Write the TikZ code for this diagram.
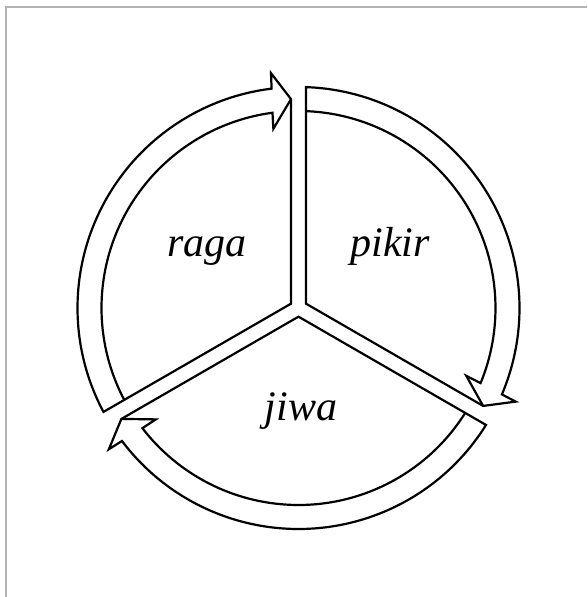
\documentclass[tikz,border=0pt]{standalone}
\usepackage{fontspec}
\setmainfont{Liberation Serif}
\usepackage{tikz}
\usetikzlibrary{calc}
\definecolor{framegray}{RGB}{180,180,180}

\begin{document}
\begin{tikzpicture}[x=1pt, y=1pt,
    sector/.style={line width=2.2pt, line join=miter, miter limit=20},
    label/.style={font=\fontsize{42}{50}\selectfont\itshape, anchor=base}]
    % Canvas and frame
    \useasboundingbox (-298.5,-289) rectangle (288.5,308);
    \draw[framegray, line width=1.3pt] (-292.5,-289) -- (-292.5,301) -- (288.5,301);

    % Three sectors, each with a curved arrow round its rim
    \foreach \r in {0,-120,-240} {
        \begin{scope}[rotate=\r]
            \coordinate (vertex) at (150:8.66pt);
            \coordinate (tip) at (92.06:209pt);
            \draw[sector] (vertex) -- (208.05:221pt)
                arc[start angle=208.05, end angle=96.99, radius=221pt]
                -- (96.68:236.5pt) -- (tip) -- cycle;
            \draw[sector] (207.82:197pt)
                arc[start angle=207.82, end angle=97.59, radius=197pt]
                -- (97.98:181pt) -- (tip);
        \end{scope}
    }

    % Labels
    \node[label] (raga) at (-91.5,51) {raga};
    \node[label] (pikir) at (91.5,51) {pikir};
    \node[label] (jiwa) at (2.5,-112) {jiwa};
\end{tikzpicture}
\end{document}
